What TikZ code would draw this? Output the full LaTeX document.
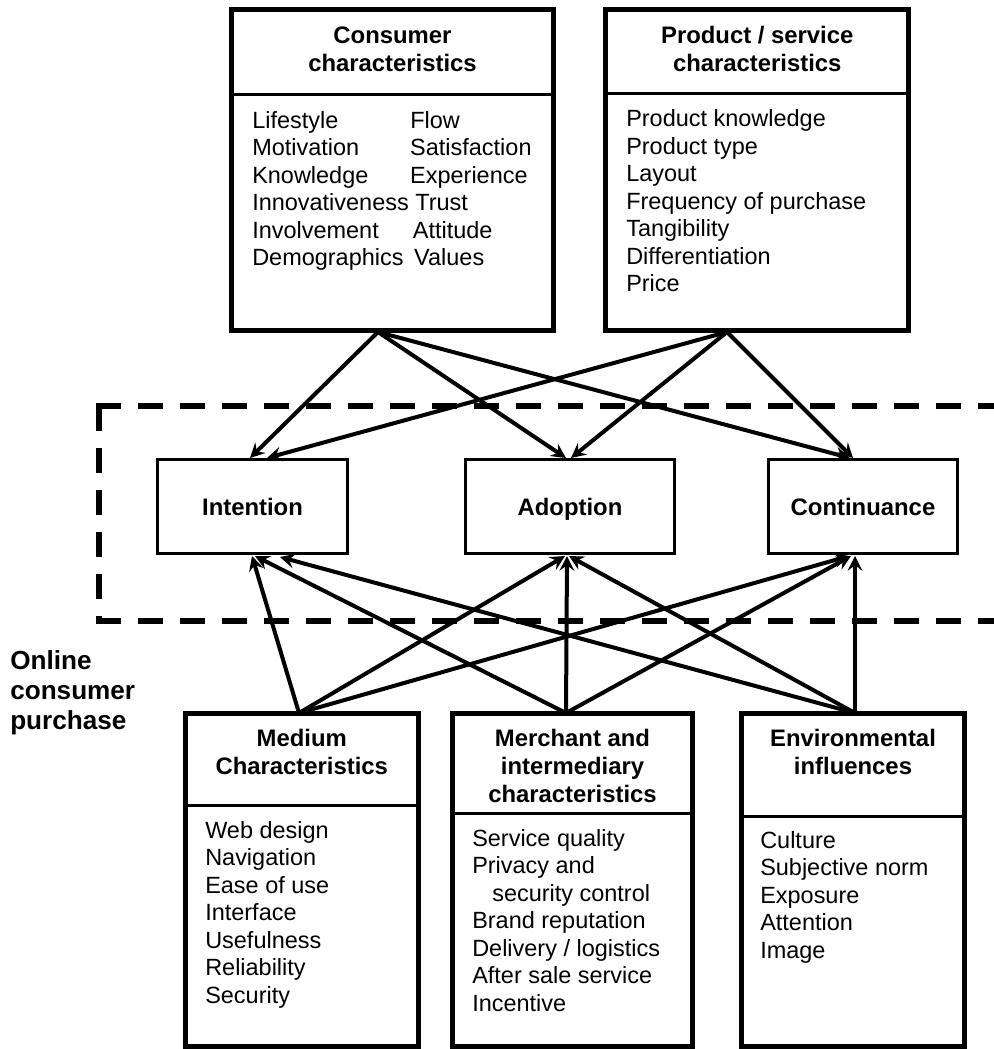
\documentclass[tikz,border=0pt]{standalone}
\usepackage{fontspec}
\setmainfont{Liberation Sans}
\usetikzlibrary{arrows.meta}

\begin{document}
\begin{tikzpicture}[x=0.75pt,y=-0.75pt,
  outerbox/.style={draw, line width=3.75pt, inner sep=0pt},
  midbox/.style={draw, line width=2.25pt, inner sep=0pt, fill=white,
    text height=12.9pt, text depth=0pt,
    font=\fontsize{17.9}{21}\selectfont\bfseries},
  divider/.style={line width=2.25pt},
  head/.style={align=center, inner sep=0pt,
    font=\fontsize{17.9}{21}\selectfont\bfseries},
  body/.style={align=left, inner sep=0pt, anchor=north west,
    font=\fontsize{17.6}{20.6}\selectfont},
  link/.style={line width=3pt, -{Stealth[length=11pt,width=11pt,inset=4pt]}},
  frame/.style={line width=4.5pt, dash pattern=on 18.75pt off 12.75pt}
]
\useasboundingbox (0,0) rectangle (994,1049);

% dashed frame around the purchase stages (open to the right)
\draw[frame] (96,406) -- (1010,406);
\draw[frame] (99,406) -- (99,621);
\draw[frame] (96,621) -- (1010,621);

% ---- top boxes
\node[outerbox, minimum width=241.5pt, minimum height=240.75pt] (cons) at (392.5,170) {};
\draw[divider] (231.5,95) -- (553.5,95);
\node[head] (cons-h) at (392.5,49) {Consumer\\characteristics};
\node[body] (cons-b) at (252,111) {%
  \makebox[118.5pt][l]{Lifestyle}Flow\\
  \makebox[118.5pt][l]{Motivation}Satisfaction\\
  \makebox[118.5pt][l]{Knowledge}Experience\\
  Innovativeness Trust\\
  \makebox[120.5pt][l]{Involvement}Attitude\\
  \makebox[121.5pt][l]{Demographics}Values};

\node[outerbox, minimum width=227.6pt, minimum height=240pt] (prod) at (757.25,170) {};
\draw[divider] (605.5,94) -- (909,94);
\node[head] (prod-h) at (757.25,49) {Product / service\\characteristics};
\node[body] (prod-b) at (626,109.5) {Product knowledge\\Product type\\Layout\\
  Frequency of purchase\\Tangibility\\Differentiation\\Price};

% ---- purchase stages
\node[midbox, minimum width=142.5pt, minimum height=70.5pt] (int) at (252.5,506.5) {Intention};
\node[midbox, minimum width=156.75pt, minimum height=70.5pt] (ado) at (570,506.5) {Adoption};
\node[midbox, minimum width=141.75pt, minimum height=70.5pt] (con) at (863,506.5) {Continuance};

\node[align=left, inner sep=0pt, anchor=north west,
  font=\fontsize{19.6}{22.5}\selectfont\bfseries] (online) at (10,650.5)
  {Online\\consumer\\purchase};

% ---- bottom boxes
\node[outerbox, minimum width=174.4pt, minimum height=249.4pt] (med) at (301.75,880.25) {};
\draw[divider] (185.5,805) -- (418,805);
\node[head] (med-h) at (301.75,752) {Medium\\Characteristics};
\node[body] (med-b) at (205,821) {Web design\\Navigation\\Ease of use\\Interface\\
  Usefulness\\Reliability\\Security};

\node[outerbox, minimum width=180pt, minimum height=249.4pt] (mer) at (572.5,880.25) {};
\draw[divider] (452.5,813) -- (692.5,813);
\node[head] (mer-h) at (572.5,765.5) {Merchant and\\intermediary\\characteristics};
\node[body] (mer-b) at (472,829) {Service quality\\Privacy and\\
  \hspace*{15pt}security control\\Brand reputation\\Delivery / logistics\\
  After sale service\\Incentive};

\node[outerbox, minimum width=167.25pt, minimum height=249.4pt] (env) at (853,880.25) {};
\draw[divider] (741.5,816) -- (964.5,816);
\node[head] (env-h) at (853,752) {Environmental\\influences};
\node[body] (env-b) at (760,831) {Culture\\Subjective norm\\Exposure\\Attention\\Image};

% ---- connector end points
\coordinate (cons-out) at (378,332);
\coordinate (prod-out) at (727,332);
\coordinate (med-out) at (299,713);
\coordinate (mer-out) at (566,713);
\coordinate (env-out) at (855,713);

\coordinate (int-t1) at (250,458);
\coordinate (int-t2) at (267,458);
\coordinate (ado-t1) at (566,458);
\coordinate (ado-t2) at (571,458);
\coordinate (con-t1) at (850,458);
\coordinate (con-t2) at (853,458);

\coordinate (int-b1) at (252,556);
\coordinate (int-b2) at (255,556);
\coordinate (int-b3) at (280,557);
\coordinate (ado-b1) at (565,556);
\coordinate (ado-b2) at (567,556);
\coordinate (ado-b3) at (569,556);
\coordinate (con-b1) at (849,556);
\coordinate (con-b2) at (851,556);
\coordinate (con-b3) at (855,556);

% ---- influences on the stages
\draw[link] (cons-out) -- (int-t1);
\draw[link] (cons-out) -- (ado-t1);
\draw[link] (cons-out) -- (con-t1);
\draw[link] (prod-out) -- (int-t2);
\draw[link] (prod-out) -- (ado-t2);
\draw[link] (prod-out) -- (con-t2);

\draw[link] (med-out) -- (int-b1);
\draw[link] (med-out) -- (ado-b1);
\draw[link] (med-out) -- (con-b1);
\draw[link] (mer-out) -- (int-b2);
\draw[link] (mer-out) -- (ado-b2);
\draw[link] (mer-out) -- (con-b2);
\draw[link] (env-out) -- (int-b3);
\draw[link] (env-out) -- (ado-b3);
\draw[link] (env-out) -- (con-b3);
\end{tikzpicture}
\end{document}
